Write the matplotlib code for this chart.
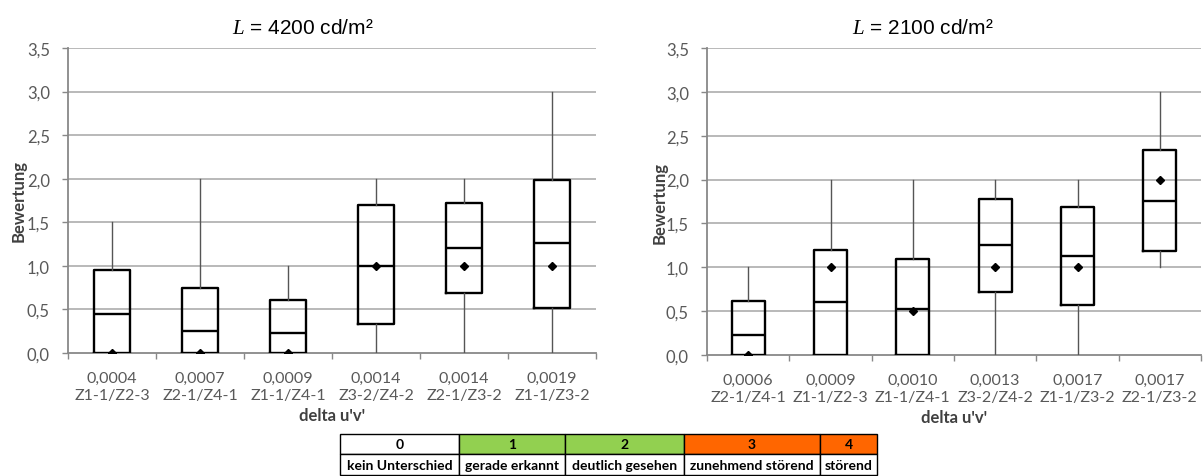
import matplotlib
matplotlib.use("Agg")
import matplotlib.pyplot as plt
from matplotlib.patches import Rectangle
from matplotlib.ticker import MultipleLocator, FixedLocator, FuncFormatter

plt.rcParams['mathtext.fontset'] = 'custom'
plt.rcParams['mathtext.it'] = 'Liberation Serif:italic'
plt.rcParams['mathtext.rm'] = 'Liberation Sans'

# ---------------- data ----------------
titles = ["4200", "2100"]

left_labels = ["0,0004\nZ1-1/Z2-3", "0,0007\nZ2-1/Z4-1", "0,0009\nZ1-1/Z4-1",
               "0,0014\nZ3-2/Z4-2", "0,0014\nZ2-1/Z3-2", "0,0019\nZ1-1/Z3-2"]
left_whislo = [0.0, 0.0, 0.0, 0.0, 0.0, 0.0]
left_q1 = [0.0, 0.0, 0.0, 0.33, 0.69, 0.52]
left_med = [0.45, 0.25, 0.23, 1.0, 1.21, 1.26]
left_q3 = [0.95, 0.75, 0.61, 1.70, 1.72, 1.98]
left_whishi = [1.5, 2.0, 1.0, 2.0, 2.0, 3.0]
left_mean = [0.0, 0.0, 0.0, 1.0, 1.0, 1.0]

right_labels = ["0,0006\nZ2-1/Z4-1", "0,0009\nZ1-1/Z2-3", "0,0010\nZ1-1/Z4-1",
                "0,0013\nZ3-2/Z4-2", "0,0017\nZ1-1/Z3-2", "0,0017\nZ2-1/Z3-2"]
right_whislo = [0.0, 0.0, 0.0, 0.0, 0.0, 1.0]
right_q1 = [0.0, 0.0, 0.0, 0.72, 0.57, 1.19]
right_med = [0.23, 0.60, 0.52, 1.25, 1.13, 1.76]
right_q3 = [0.61, 1.20, 1.09, 1.78, 1.69, 2.34]
right_whishi = [1.0, 2.0, 2.0, 2.0, 2.0, 3.0]
right_mean = [0.0, 1.0, 0.5, 1.0, 1.0, 2.0]

scale_codes = ["0", "1", "2", "3", "4"]
scale_texts = ["kein Unterschied", "gerade erkannt", "deutlich gesehen",
               "zunehmend störend", "störend"]
scale_colors = ["#FFFFFF", "#92D050", "#92D050", "#FF6600", "#FF6600"]

# ---------------- figure ----------------
W, H = 1203, 477
fig = plt.figure(figsize=(W / 100, H / 100), dpi=100)

def fx(px):
    return px / W

def fy(py):
    return 1 - py / H

tick_family = 'Lato'
grey_txt = '#595959'

def draw_panel(rect, labels, whislo, q1, med, q3, whishi, mean, title, title_x, ylabel_x):
    ax = fig.add_axes(rect)
    stats = []
    for i in range(len(labels)):
        stats.append(dict(whislo=whislo[i], q1=q1[i], med=med[i], q3=q3[i],
                          whishi=whishi[i], mean=mean[i], fliers=[]))
    ax.bxp(stats, positions=list(range(len(labels))), widths=0.4,
           showmeans=True, showcaps=False, showfliers=False, patch_artist=False,
           boxprops=dict(color='black', linewidth=1.7),
           medianprops=dict(color='black', linewidth=1.7),
           whiskerprops=dict(color='#555555', linewidth=1.0),
           meanprops=dict(marker='D', markerfacecolor='black', markeredgecolor='black',
                          markersize=3.8),
           zorder=3)
    ax.set_xlim(-0.5, len(labels) - 0.5)
    ax.set_ylim(0, 3.5)
    ax.yaxis.set_major_locator(MultipleLocator(0.5))
    ax.yaxis.set_major_formatter(FuncFormatter(lambda v, p: f"{v:.1f}".replace('.', ',')))
    for yv in [0.5, 1.0, 1.5, 2.0, 2.5, 3.0, 3.5]:
        ax.axhline(yv, color='#a6a6a6', linewidth=1.1, zorder=1)
    ax.set_xticks(range(len(labels)))
    ax.set_xticklabels(labels, linespacing=1.3)
    ax.xaxis.set_minor_locator(FixedLocator([i - 0.5 for i in range(len(labels) + 1)]))
    ax.tick_params(axis='x', which='major', length=0, pad=13, labelcolor=grey_txt)
    ax.tick_params(axis='x', which='minor', length=4, width=1.0, color='#888888', direction='out')
    ax.tick_params(axis='y', which='major', length=4, width=1.0, color='#888888', pad=9,
                   labelcolor=grey_txt)
    for lab in ax.get_xticklabels():
        lab.set_fontfamily(tick_family)
        lab.set_fontsize(11.5)
    for lab in ax.get_yticklabels():
        lab.set_fontfamily(tick_family)
        lab.set_fontsize(12)
    for s in ['top', 'right']:
        ax.spines[s].set_visible(False)
    for s in ['left', 'bottom']:
        ax.spines[s].set_color('#888888')
        ax.spines[s].set_linewidth(1.3)
    ax.set_xlabel("delta u'v'", fontfamily=tick_family, fontweight='bold', fontsize=12,
                  color='#404040', labelpad=3)
    fig.text(fx(ylabel_x), rect[1] + rect[3] / 2, "Bewertung", rotation=90,
             ha='center', va='center', fontfamily=tick_family, fontweight='bold',
             fontsize=12, color='#404040')
    fig.text(fx(title_x), fy(28), r"$\mathit{L}$ = " + title + " cd/m²",
             ha='center', va='center', fontfamily='Liberation Sans', fontsize=15)
    return ax

draw_panel([fx(68), fy(354), fx(596 - 68), (354 - 49) / H],
           left_labels, left_whislo, left_q1, left_med, left_q3, left_whishi, left_mean,
           titles[0], 303, 19)
draw_panel([fx(707), fy(356), fx(1201 - 707), (356 - 49) / H],
           right_labels, right_whislo, right_q1, right_med, right_q3, right_whishi, right_mean,
           titles[1], 923, 660)

# ---------------- rating scale table ----------------
tab = fig.add_axes([0, 0, 1, 1], facecolor='none')
tab.set_xlim(0, W)
tab.set_ylim(H, 0)
tab.axis('off')
col_edges = [340, 459, 565, 684, 820, 877]
row_top, row_mid, row_bot = 435, 455, 476
for i in range(len(scale_codes)):
    x0, x1 = col_edges[i], col_edges[i + 1]
    tab.add_patch(Rectangle((x0, row_top), x1 - x0, row_mid - row_top,
                            facecolor=scale_colors[i], edgecolor='black', linewidth=1.0))
    tab.add_patch(Rectangle((x0, row_mid), x1 - x0, row_bot - row_mid,
                            facecolor='white', edgecolor='black', linewidth=1.0))
    tab.text((x0 + x1) / 2, (row_top + row_mid) / 2 + 0.5, scale_codes[i], ha='center',
             va='center', fontfamily=tick_family, fontweight='bold', fontsize=10,
             color='black')
    tab.text((x0 + x1) / 2, (row_mid + row_bot) / 2 + 0.5, scale_texts[i], ha='center',
             va='center', fontfamily=tick_family, fontweight='bold', fontsize=10,
             color='black')

fig.savefig("out.png", dpi=100)
